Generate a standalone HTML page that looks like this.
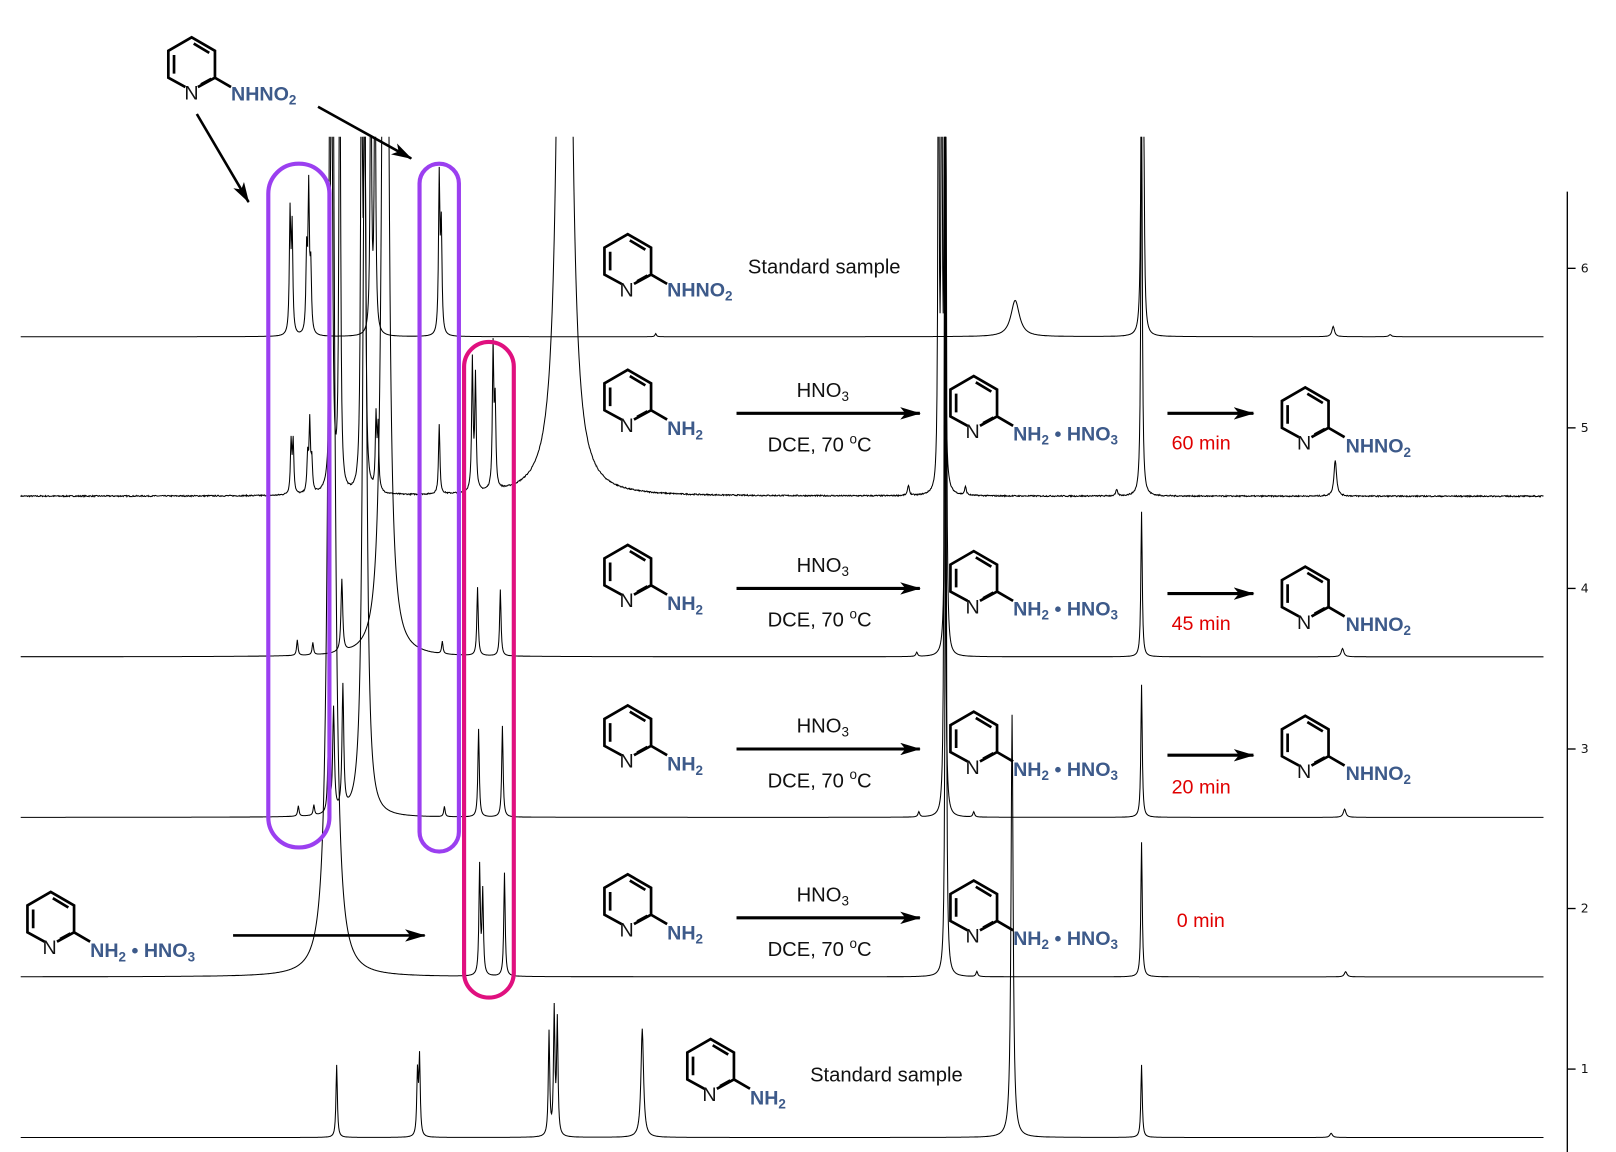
<!DOCTYPE html>
<html><head><meta charset="utf-8"><style>
html,body{margin:0;padding:0;background:#fff;}
svg{display:block;}
.b{font-family:"Liberation Sans",sans-serif;font-weight:bold;font-size:19px;fill:#3d5a8a;}
.r{font-family:"Liberation Sans",sans-serif;font-size:19.5px;fill:#111;}
.t{font-family:"Liberation Sans",sans-serif;font-size:19px;fill:#e00000;}
.n{font-family:"Liberation Sans",sans-serif;font-size:19px;fill:#111;}
.ax{font-family:"DejaVu Sans",sans-serif;font-size:12px;fill:#111;}
</style></head><body>
<svg id="s" width="1616" height="1152" viewBox="0 0 1560 1112" xmlns="http://www.w3.org/2000/svg">
<defs>
<clipPath id="c"><rect x="0" y="132" width="1560" height="1000"/></clipPath>
<marker id="ah" viewBox="0 0 20 12" refX="19" refY="6" markerWidth="20" markerHeight="12" markerUnits="userSpaceOnUse" orient="auto"><path d="M0,0 L20,6 L0,12 L5,6 Z" fill="#000"/></marker>
<g id="ring" fill="none" stroke="#000" stroke-width="2.6">
<path d="M-6,22 L-22.5,13 L-22.5,-13 L0,-26 L22.5,-13 L22.5,13 L6,22"/>
<path d="M-17,-9 L-17,9 M2,-20 L17,-11 M19,14 L9,19.5"/>
<path d="M22.5,13 L38,22"/>
</g>
</defs>
<g id="spec" clip-path="url(#c)" fill="none" stroke="#000" stroke-width="1"></g>

<rect x="259" y="158" width="59" height="660" rx="29" fill="none" stroke="#9b3ff0" stroke-width="4"/>
<rect x="405" y="158" width="38" height="664" rx="19" fill="none" stroke="#9b3ff0" stroke-width="4"/>
<rect x="448" y="330" width="48" height="633" rx="24" fill="none" stroke="#e0107f" stroke-width="4"/>

<g stroke="#000" stroke-width="1.3">
<line x1="1513" y1="185" x2="1513" y2="1112"/>
<line x1="1513" y1="259" x2="1521" y2="259"/>
<line x1="1513" y1="413" x2="1521" y2="413"/>
<line x1="1513" y1="568" x2="1521" y2="568"/>
<line x1="1513" y1="723" x2="1521" y2="723"/>
<line x1="1513" y1="877" x2="1521" y2="877"/>
<line x1="1513" y1="1032" x2="1521" y2="1032"/>
</g>
<text class="ax" x="1526" y="263">6</text>
<text class="ax" x="1526" y="417">5</text>
<text class="ax" x="1526" y="572">4</text>
<text class="ax" x="1526" y="727">3</text>
<text class="ax" x="1526" y="881">2</text>
<text class="ax" x="1526" y="1036">1</text>

<use href="#ring" x="185" y="62"/>
<text class="n" x="178" y="96">N</text>
<text class="b" x="223" y="97">NHNO<tspan font-size="13" dy="4">2</tspan></text>
<g stroke="#000" stroke-width="2.5">
<line x1="190" y1="110" x2="240" y2="195" marker-end="url(#ah)"/>
<line x1="307" y1="103" x2="397" y2="153" marker-end="url(#ah)"/>
<line x1="225" y1="903" x2="410" y2="903" marker-end="url(#ah)"/>
</g>

<use href="#ring" x="606" y="252"/>
<text class="n" x="598" y="286">N</text>
<text class="b" x="644" y="286">NHNO<tspan font-size="13" dy="4">2</tspan></text>
<text class="r" x="722" y="264">Standard sample</text>

<g id="row">
<use href="#ring" x="606" y="383"/>
<text class="n" x="598" y="417">N</text>
<text class="b" x="644" y="420">NH<tspan font-size="13" dy="4">2</tspan></text>
<text class="r" x="769" y="383">HNO<tspan font-size="13" dy="4">3</tspan></text>
<line x1="711" y1="399" x2="888" y2="399" stroke="#000" stroke-width="3" marker-end="url(#ah)"/>
<text class="r" x="741" y="436">DCE, 70 <tspan font-size="13" dy="-8">o</tspan><tspan dy="8">C</tspan></text>
<use href="#ring" x="940" y="389"/>
<text class="n" x="932" y="423">N</text>
<text class="b" x="978" y="425">NH<tspan font-size="13" dy="4">2</tspan><tspan dy="-4"> • HNO</tspan><tspan font-size="13" dy="4">3</tspan></text>
</g>
<use href="#row" y="169"/>
<use href="#row" y="324"/>
<use href="#row" y="487"/>
<g stroke="#000" stroke-width="3">
<line x1="1127" y1="399" x2="1210" y2="399" marker-end="url(#ah)"/>
<line x1="1127" y1="573" x2="1210" y2="573" marker-end="url(#ah)"/>
<line x1="1127" y1="729" x2="1210" y2="729" marker-end="url(#ah)"/>
</g>
<text class="t" x="1131" y="434">60 min</text>
<text class="t" x="1131" y="608">45 min</text>
<text class="t" x="1131" y="766">20 min</text>
<text class="t" x="1136" y="895">0 min</text>
<use href="#ring" x="1260" y="400"/><text class="n" x="1252" y="434">N</text>
<text class="b" x="1299" y="437">NHNO<tspan font-size="13" dy="4">2</tspan></text>
<use href="#ring" x="1260" y="573"/><text class="n" x="1252" y="607">N</text>
<text class="b" x="1299" y="609">NHNO<tspan font-size="13" dy="4">2</tspan></text>
<use href="#ring" x="1260" y="717"/><text class="n" x="1252" y="751">N</text>
<text class="b" x="1299" y="753">NHNO<tspan font-size="13" dy="4">2</tspan></text>

<use href="#ring" x="49" y="887"/>
<text class="n" x="41" y="921">N</text>
<text class="b" x="87" y="924">NH<tspan font-size="13" dy="4">2</tspan><tspan dy="-4"> • HNO</tspan><tspan font-size="13" dy="4">3</tspan></text>

<use href="#ring" x="686" y="1029"/>
<text class="n" x="678" y="1063">N</text>
<text class="b" x="724" y="1066">NH<tspan font-size="13" dy="4">2</tspan></text>
<text class="r" x="782" y="1044">Standard sample</text>
</svg>
<script>
(function(){
var T=[
[325,[[280,115,.8],[282,100,.8],[296,75,.8],[298,137,.8],[300,60,.8],[358,300,.8],[362,300,.8],[424,150,.8],[426,100,.8],[633,3,.8],[980,35,5],[1102,300,.8],[1104,200,.8],[1287,10,1.5],[1342,2,1.5]],0],
[479,[[281,50,.8],[283,50,.8],[297,35,.8],[299,67,.8],[301,30,.8],[320,600,1],[328,600,.8],[349,600,.8],[352,600,.8],[363,70,.8],[365,60,.8],[424,67,.8],[456,125,.8],[459,110,.8],[476,135,.8],[478,80,.8],[545,2400,3.4],[877,10,1],[906,600,.6],[909,600,.6],[912,600,.6],[932,8,1],[1078,6,1],[1102,400,.8],[1289,35,1.5]],1.2],
[634,[[287,15,.8],[302,12,.8],[330,70,1],[372,1500,2.5],[427,12,.8],[461,66,.8],[483,64,.8],[885,4,1],[913,700,.7],[1102,140,.8],[1296,8,1.5]],0],
[789,[[288,10,.8],[303,10,.8],[317,60,1],[322,100,1],[331,120,1],[352,700,2.3],[429,10,.8],[462,85,.8],[485,88,.8],[887,5,1],[912,700,.7],[940,5,1],[1102,128,.8],[1298,8,1.5]],0],
[943,[[320,1200,3.1],[463,105,.8],[466,80,.8],[487,100,.8],[913,700,.7],[943,5,1],[1102,130,.8],[1299,5,1.5]],0],
[1098,[[325,70,.8],[403,60,.8],[405,75,.8],[530,100,.8],[535,120,.8],[538,110,.8],[620,105,1.5],[977,408,1.2],[1102,70,.8],[1285,4,1.5]],0]
];
var g=document.getElementById('spec'),seed=7;
function rnd(){seed=(seed*16807)%2147483647;return seed/2147483647-0.5;}
T.forEach(function(t){
 var y0=t[0],P=t[1],nz=t[2],d='';
 for(var x=20;x<=1490;x+=0.5){
  var h=0;
  for(var i=0;i<P.length;i++){var dx=x-P[i][0],w=P[i][2];h+=P[i][1]*w*w/(dx*dx+w*w);}
  if(nz)h+=nz*rnd();
  var y=y0-h; if(y<100)y=100;
  d+=(x==20?'M':'L')+x+','+y.toFixed(1);
 }
 var p=document.createElementNS('http://www.w3.org/2000/svg','path');
 p.setAttribute('d',d);g.appendChild(p);
});
})();
</script>
</body></html>
